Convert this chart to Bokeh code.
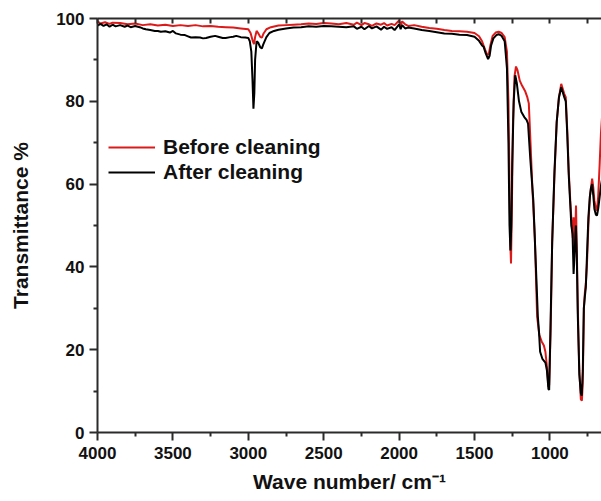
from bokeh.plotting import figure
from bokeh.models import Range1d, LinearAxis, FixedTicker, Legend, LegendItem
from bokeh.embed import file_html
from bokeh.resources import INLINE

# ---- data ----
wn_before = [4000, 3980, 3950, 3920, 3900, 3850, 3800, 3750, 3700, 3650, 3600, 3550, 3500, 3450,
             3400, 3350, 3300, 3250, 3200, 3150, 3100, 3050, 3000, 2985, 2970, 2962, 2955, 2945,
             2935, 2920, 2910, 2900, 2880, 2850, 2800, 2750, 2700, 2650, 2600, 2550, 2500, 2450,
             2400, 2350, 2300, 2280, 2250, 2230, 2200, 2180, 2150, 2120, 2100, 2080, 2050, 2030,
             2000, 1990, 1980, 1960, 1940, 1900, 1850, 1800, 1750, 1700, 1650, 1600, 1550, 1500,
             1470, 1450, 1430, 1415, 1405, 1395, 1380, 1360, 1340, 1320, 1300, 1285, 1275, 1268,
             1262, 1258, 1252, 1245, 1235, 1225, 1215, 1200, 1185, 1165, 1150, 1140, 1130, 1115,
             1100, 1085, 1070, 1055, 1040, 1030, 1020, 1010, 1005, 995, 985, 970, 955, 940, 925,
             915, 905, 895, 885, 875, 865, 855, 848, 843, 838, 832, 827, 822, 815, 805, 795, 788,
             782, 775, 768, 762, 755, 745, 735, 728, 720, 712, 705, 695, 688, 680, 670, 662, 655]
t_before = [99.3, 98.8, 99.1, 98.7, 99.0, 98.9, 98.6, 98.8, 98.4, 98.6, 98.3, 98.5, 98.2, 98.4,
            98.2, 98.4, 98.1, 98.2, 98.0, 97.9, 97.8, 97.6, 97.4, 96.5, 94.5, 93.8, 95.5, 97.0,
            96.5, 95.5, 95.4, 96.3, 97.4, 97.9, 98.3, 98.4, 98.5, 98.6, 98.8, 98.7, 98.9, 98.8,
            98.6, 98.9, 98.5, 99.0, 98.4, 98.9, 98.6, 98.2, 98.8, 98.5, 98.9, 98.3, 98.7, 98.4,
            99.5, 98.3, 99.3, 98.6, 98.2, 98.4, 98.0, 97.7, 97.5, 97.2, 97.0, 96.9, 96.8, 96.5,
            95.7, 94.5, 92.5, 91.2, 91.5, 93.5, 95.8, 96.6, 96.8, 96.5, 95.5, 92.0, 80.0, 60.0,
            45.0, 40.8, 55.0, 75.0, 86.0, 88.4, 87.5, 85.0, 83.8, 82.5, 81.0, 79.5, 71.0, 58.0,
            47.0, 28.0, 23.5, 22.0, 21.0, 19.5, 16.0, 11.0, 11.5, 25.0, 46.0, 62.0, 75.0, 81.0, 84.2,
            83.0, 81.8, 81.0, 73.0, 63.0, 56.0, 50.0, 47.0, 52.0, 44.0, 48.0, 54.8, 45.0, 30.0, 15.0,
            8.0, 7.7, 12.0, 30.0, 34.0, 36.0, 40.0, 50.0, 57.0, 59.0, 61.3, 59.0, 56.0, 54.0, 53.6,
            57.0, 65.0, 72.0, 76.0]

wn_after = [4000, 3980, 3960, 3940, 3920, 3900, 3880, 3850, 3820, 3800, 3780, 3750, 3720, 3700,
            3680, 3650, 3620, 3600, 3580, 3550, 3520, 3500, 3480, 3450, 3420, 3400, 3380, 3350,
            3320, 3300, 3280, 3250, 3220, 3200, 3170, 3150, 3120, 3100, 3080, 3050, 3020, 3000,
            2990, 2980, 2972, 2966, 2960, 2955, 2945, 2935, 2920, 2910, 2900, 2880, 2860, 2830,
            2800, 2750, 2700, 2650, 2600, 2550, 2500, 2450, 2400, 2350, 2300, 2280, 2250, 2230,
            2200, 2180, 2150, 2120, 2100, 2080, 2050, 2030, 2000, 1990, 1980, 1960, 1940, 1900,
            1850, 1800, 1750, 1700, 1650, 1600, 1550, 1500, 1470, 1450, 1440, 1425, 1410, 1400,
            1390, 1375, 1355, 1340, 1320, 1300, 1285, 1275, 1268, 1262, 1256, 1250, 1240, 1230,
            1220, 1205, 1190, 1170, 1155, 1145, 1130, 1110, 1095, 1080, 1072, 1065, 1050, 1030,
            1020, 1010, 1005, 997, 985, 970, 955, 940, 925, 915, 905, 895, 885, 875, 865, 858,
            850, 843, 838, 833, 828, 822, 815, 805, 795, 789, 782, 775, 768, 762, 755, 745, 735,
            728, 720, 712, 705, 695, 688, 680, 670, 660, 655]
t_after = [98.3, 98.7, 98.2, 98.6, 98.0, 98.5, 98.1, 98.4, 98.0, 98.3, 97.9, 98.2, 97.9, 97.6,
           97.4, 97.2, 97.0, 97.0, 96.8, 96.9, 96.6, 97.0, 96.4, 96.1, 96.0, 95.7, 95.4, 95.5,
           95.4, 95.2, 95.3, 95.6, 95.8, 95.6, 95.3, 95.3, 95.5, 95.6, 95.8, 95.5, 95.4, 95.3,
           94.5, 92.0, 85.0, 78.2, 82.0, 90.0, 94.5, 94.2, 93.0, 92.8, 93.8, 95.5, 96.5, 97.0,
           97.3, 97.6, 97.8, 97.9, 98.1, 98.0, 98.2, 98.1, 98.0, 97.9, 98.1, 97.5, 98.0, 97.4,
           98.2, 97.6, 98.1, 97.3, 98.0, 97.5, 97.9, 97.2, 98.6, 97.4, 98.4, 97.6, 97.8, 97.6,
           97.2, 97.0, 96.7, 96.4, 96.3, 96.1, 96.0, 95.6, 94.6, 93.5, 93.2, 91.5, 90.2, 91.0,
           93.5, 95.2, 96.0, 96.2, 95.8, 94.5, 88.0, 70.0, 50.0, 44.0, 50.0, 65.0, 80.0, 86.3,
           84.5, 80.0, 77.5, 76.2, 75.5, 74.6, 66.0, 56.0, 42.0, 28.0, 24.0, 19.5, 17.8, 16.9,
           15.0, 10.5, 10.3, 24.0, 46.0, 63.0, 75.0, 81.0, 83.4, 82.2, 81.0, 80.0, 72.0, 62.0, 55.0, 50.0,
           48.0, 38.3, 42.0, 46.0, 50.0, 43.0, 28.0, 14.0, 9.5, 8.9, 15.0, 30.0, 33.0, 35.0, 42.0, 52.0, 57.0,
           59.0, 60.0, 57.0, 54.0, 52.6, 52.4, 54.0, 57.0, 60.0, 61.0]

series_labels = ["Before cleaning", "After cleaning"]
x_major = [4000, 3500, 3000, 2500, 2000, 1500, 1000]
x_minor = [3750, 3250, 2750, 2250, 1750, 1250, 750]
y_major = [0, 20, 40, 60, 80, 100]
y_minor = [10, 30, 50, 70, 90]

FONT = "Liberation Sans"
AX = "#2b2b2b"
TXT = "#111111"

p = figure(width=601, height=501, output_backend="svg", toolbar_location=None,
           x_range=Range1d(4000, 658), y_range=Range1d(0, 100),
           min_border_left=97, min_border_right=0, min_border_top=18, min_border_bottom=69)
p.outline_line_color = None
p.grid.visible = False
p.background_fill_color = "white"
p.border_fill_color = "white"

r_before = p.line(wn_before, t_before, line_color="#dc1a1a", line_width=2)
r_after = p.line(wn_after, t_after, line_color="#000000", line_width=2)

# bottom axis
xa = p.xaxis[0]
xa.ticker = FixedTicker(ticks=x_major, minor_ticks=x_minor)
xa.axis_label = "Wave number/ cm\u207b\u00b9"
xa.axis_label_text_font = FONT
xa.axis_label_text_font_style = "bold"
xa.axis_label_text_font_size = "21px"
xa.axis_label_standoff = 8
xa.major_label_text_font = FONT
xa.major_label_text_font_style = "bold"
xa.major_label_text_font_size = "17px"
xa.major_label_standoff = 6
xa.axis_line_width = 2
xa.axis_line_color = AX
xa.major_tick_line_color = AX
xa.minor_tick_line_color = AX
xa.major_tick_line_width = 2
xa.minor_tick_line_width = 2
xa.major_tick_out = 8
xa.major_tick_in = 0
xa.minor_tick_out = 4
xa.minor_tick_in = 0
xa.major_label_text_color = TXT
xa.axis_label_text_color = TXT

# left axis
ya = p.yaxis[0]
ya.ticker = FixedTicker(ticks=y_major, minor_ticks=y_minor)
ya.axis_label = "Transmittance %"
ya.axis_label_text_font = FONT
ya.axis_label_text_font_style = "bold"
ya.axis_label_text_font_size = "21px"
ya.axis_label_standoff = 21
ya.major_label_text_font = FONT
ya.major_label_text_font_style = "bold"
ya.major_label_text_font_size = "17px"
ya.major_label_standoff = 5
ya.axis_line_width = 2
ya.axis_line_color = AX
ya.major_tick_line_color = AX
ya.minor_tick_line_color = AX
ya.major_tick_line_width = 2
ya.minor_tick_line_width = 2
ya.major_tick_out = 8
ya.major_tick_in = 0
ya.minor_tick_out = 4
ya.minor_tick_in = 0
ya.major_label_text_color = TXT
ya.axis_label_text_color = TXT

# top axis: ticks only, pointing inward, labels hidden
top_ticks = x_major + x_minor
top = LinearAxis(ticker=FixedTicker(ticks=top_ticks, minor_ticks=[]))
top.major_label_text_font_size = "0px"
top.major_label_standoff = 0
top.axis_line_width = 2
top.axis_line_color = AX
top.major_tick_line_color = AX
top.major_tick_line_width = 2
top.major_tick_out = 0
top.major_tick_in = 5
top.minor_tick_out = 0
top.minor_tick_in = 0
p.add_layout(top, "above")

legend = Legend(items=[LegendItem(label=series_labels[0], renderers=[r_before]),
                       LegendItem(label=series_labels[1], renderers=[r_after])],
                location=(11, 248), orientation="vertical")
legend.background_fill_alpha = 0
legend.border_line_color = None
legend.margin = 0
legend.padding = 0
legend.spacing = 1
legend.glyph_width = 47
legend.glyph_height = 20
legend.label_standoff = 8
legend.label_text_font = FONT
legend.label_text_font_style = "bold"
legend.label_text_font_size = "21px"
legend.label_text_color = TXT
p.add_layout(legend, "center")

open("out.html", "w").write(file_html(p, INLINE))
